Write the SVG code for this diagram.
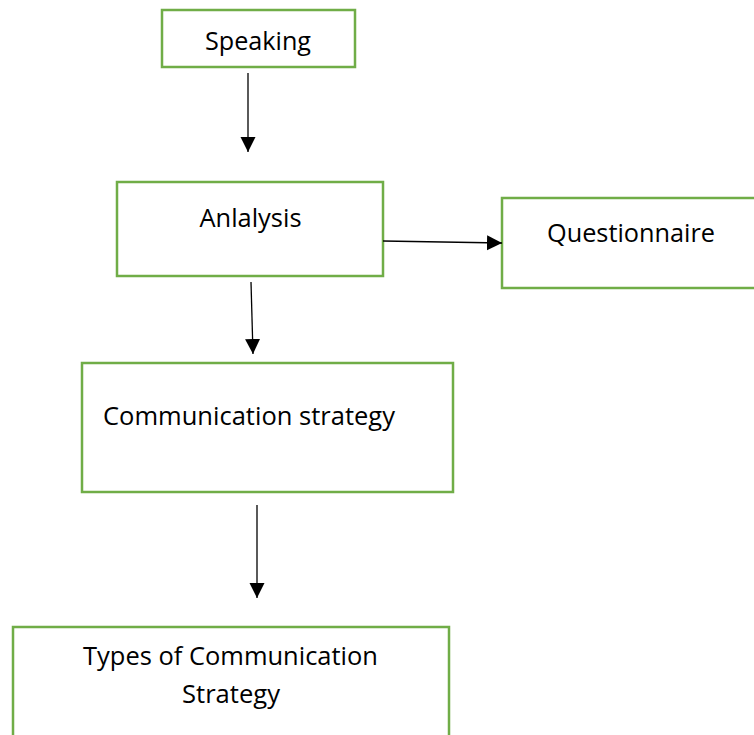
<svg xmlns="http://www.w3.org/2000/svg" width="754" height="735" viewBox="0 0 754 735">
<style>
.box{fill:#ffffff;stroke:#70AD47;stroke-width:2.5}
.lbl{font-family:"Open Sans","Liberation Sans",sans-serif;font-size:25px;fill:#000000}
.con{stroke:#000000;stroke-width:1.3;fill:none}
</style>
<defs>
<marker id="arr" markerUnits="userSpaceOnUse" markerWidth="16" markerHeight="16" refX="15" refY="7.5" orient="auto">
<path d="M0,0 L15,7.5 L0,15 Z" fill="#000000"/>
</marker>
</defs>
<rect width="754" height="735" fill="#ffffff"/>
<g id="speaking">
<rect class="box" x="162" y="10" width="193" height="57"/>
<text class="lbl" x="258" y="50" text-anchor="middle" textLength="106" lengthAdjust="spacingAndGlyphs">Speaking</text>
</g>
<g id="analysis">
<rect class="box" x="117" y="182" width="266" height="94"/>
<text class="lbl" x="250.5" y="227" text-anchor="middle" textLength="102" lengthAdjust="spacingAndGlyphs">Anlalysis</text>
</g>
<g id="questionnaire">
<rect class="box" x="502" y="198" width="262" height="90"/>
<text class="lbl" x="631" y="242" text-anchor="middle" textLength="168" lengthAdjust="spacingAndGlyphs">Questionnaire</text>
</g>
<g id="communication-strategy">
<rect class="box" x="82" y="363" width="371" height="129"/>
<text class="lbl" x="103" y="425" textLength="292" lengthAdjust="spacingAndGlyphs">Communication strategy</text>
</g>
<g id="types">
<rect class="box" x="13" y="627" width="436" height="130"/>
<text class="lbl" x="230.5" y="665" text-anchor="middle" textLength="295" lengthAdjust="spacingAndGlyphs">Types of Communication</text>
<text class="lbl" x="231" y="703" text-anchor="middle" textLength="98" lengthAdjust="spacingAndGlyphs">Strategy</text>
</g>
<g id="connectors">
<line class="con" x1="248" y1="73" x2="248" y2="152" marker-end="url(#arr)"/>
<line class="con" x1="383" y1="241" x2="502" y2="243" marker-end="url(#arr)"/>
<line class="con" x1="251" y1="282" x2="253" y2="354" marker-end="url(#arr)"/>
<line class="con" x1="257" y1="505" x2="257" y2="598" marker-end="url(#arr)"/>
</g>
</svg>
